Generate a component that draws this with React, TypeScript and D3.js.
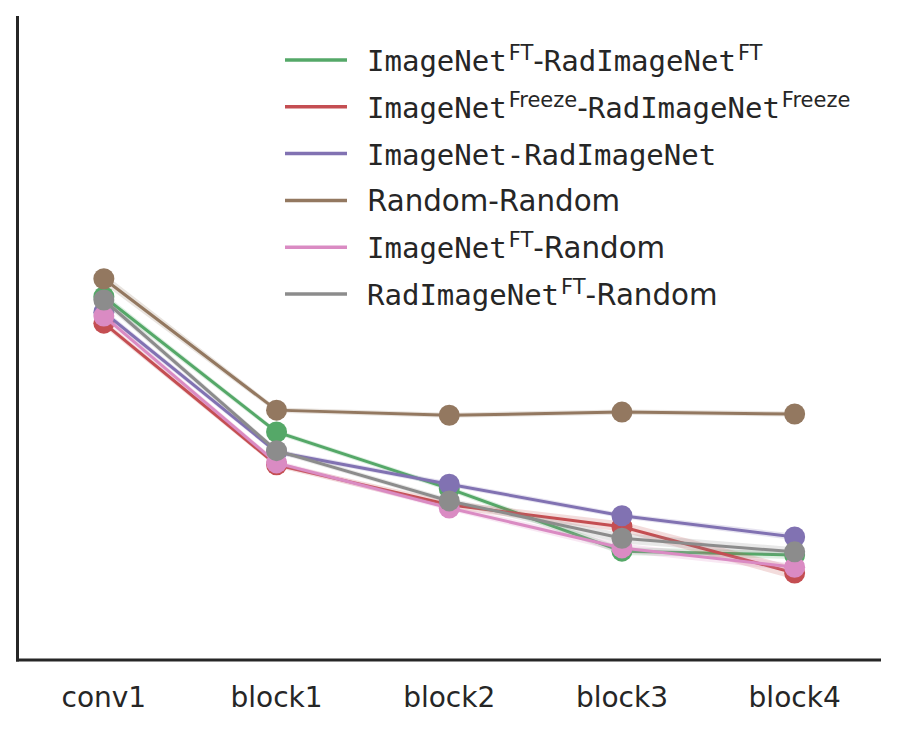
import * as d3 from "d3";
import * as React from "react";

const categories = ["conv1", "block1", "block2", "block3", "block4"];

const seriesNames = ["IN_FT-RIN_FT", "IN_Freeze-RIN_Freeze", "IN-RIN", "Random-Random", "IN_FT-Random", "RIN_FT-Random"];
const seriesColors = ["#55A868", "#C44E52", "#8172B2", "#937860", "#DA8BC3", "#8C8C8C"];

// mean per layer (no y ticks in the original, arbitrary units)
const greenVals = [0.564, 0.354, 0.266, 0.169, 0.163];
const redVals = [0.523, 0.303, 0.241, 0.207, 0.135];
const purpleVals = [0.540, 0.323, 0.273, 0.224, 0.191];
const brownVals = [0.592, 0.388, 0.380, 0.385, 0.382];
const pinkVals = [0.534, 0.306, 0.236, 0.174, 0.144];
const grayVals = [0.559, 0.325, 0.247, 0.189, 0.168];

// half width of the confidence band
const greenErr = [0.006, 0.004, 0.004, 0.006, 0.006];
const redErr = [0.005, 0.004, 0.006, 0.008, 0.010];
const purpleErr = [0.005, 0.004, 0.004, 0.004, 0.005];
const brownErr = [0.008, 0.004, 0.004, 0.004, 0.004];
const pinkErr = [0.005, 0.004, 0.004, 0.007, 0.006];
const grayErr = [0.006, 0.004, 0.004, 0.008, 0.007];

const allVals = [greenVals, redVals, purpleVals, brownVals, pinkVals, grayVals];
const allErr = [greenErr, redErr, purpleErr, brownErr, pinkErr, grayErr];

const MONO = "'DejaVu Sans Mono', monospace";
const SANS = "'DejaVu Sans', sans-serif";

// legend label pieces: [text, font, superscript?]
type Piece = [string, "m" | "s", boolean];
const legendLabels: Piece[][] = [
    [["ImageNet", "m", false], ["FT", "s", true], ["-", "s", false], ["RadImageNet", "m", false], ["FT", "s", true]],
    [["ImageNet", "m", false], ["Freeze", "s", true], ["-", "s", false], ["RadImageNet", "m", false], ["Freeze", "s", true]],
    [["ImageNet-RadImageNet", "m", false]],
    [["Random-Random", "s", false]],
    [["ImageNet", "m", false], ["FT", "s", true], ["-Random", "s", false]],
    [["RadImageNet", "m", false], ["FT", "s", true], ["-Random", "s", false]],
];

export default function App(): JSX.Element {
    const width = 898;
    const height = 730;
    const left = 17.5;
    const right = 881;
    const top = 16;
    const bottom = 660;

    const x = d3.scaleLinear().domain([-0.5, categories.length - 0.5]).range([left, right]);
    const y = d3.scaleLinear().domain([0, 1]).range([bottom, top]);

    const line = d3.line<number>().x((_, i) => x(i)).y(v => y(v));

    return (
        <svg width={width} height={height} style={{ position: "absolute", left: 0, top: 0, background: "#fff" }}>
            <rect width={width} height={height} fill="#fff" />
            {allVals.map((vals, s) => {
                const errs = allErr[s];
                const band = d3.area<number>()
                    .x((_, i) => x(i))
                    .y0((v, i) => y(v - errs[i]))
                    .y1((v, i) => y(v + errs[i]));
                return (
                    <g key={seriesNames[s]}>
                        <path d={band(vals) ?? ""} fill={seriesColors[s]} opacity={0.2} />
                        <path d={line(vals) ?? ""} fill="none" stroke={seriesColors[s]} strokeWidth={3} />
                        {vals.map((v, i) => (
                            <circle key={i} cx={x(i)} cy={y(v)} r={10.5} fill={seriesColors[s]} />
                        ))}
                    </g>
                );
            })}
            <line x1={left} x2={left} y1={top} y2={bottom + 1.5} stroke="#262626" strokeWidth={3} />
            <line x1={left - 1.5} x2={right} y1={bottom} y2={bottom} stroke="#262626" strokeWidth={3} />
            {categories.map((c, i) => (
                <text key={c} x={x(i)} y={707} textAnchor="middle" fontFamily={SANS} fontSize={28} fill="#262626">
                    {c}
                </text>
            ))}
            {legendLabels.map((pieces, r) => {
                const ly = 60 + r * 46.8;
                return (
                    <g key={r}>
                        <line x1={285} x2={347} y1={ly} y2={ly} stroke={seriesColors[r]} strokeWidth={3.5} />
                        <text x={367} y={ly + 11} fontSize={29} fill="#262626">
                            {pieces.map(([t, f, sup], k) => {
                                const afterSup = k > 0 && pieces[k - 1][2];
                                return (
                                    <tspan
                                        key={k}
                                        fontFamily={f === "m" ? MONO : SANS}
                                        fontSize={sup ? 21 : (f === "m" ? 29 : 29.3)}
                                        dx={sup ? 2 : 0}
                                        dy={sup ? -11 : (afterSup ? 11 : 0)}
                                    >
                                        {t}
                                    </tspan>
                                );
                            })}
                        </text>
                    </g>
                );
            })}
        </svg>
    );
}
